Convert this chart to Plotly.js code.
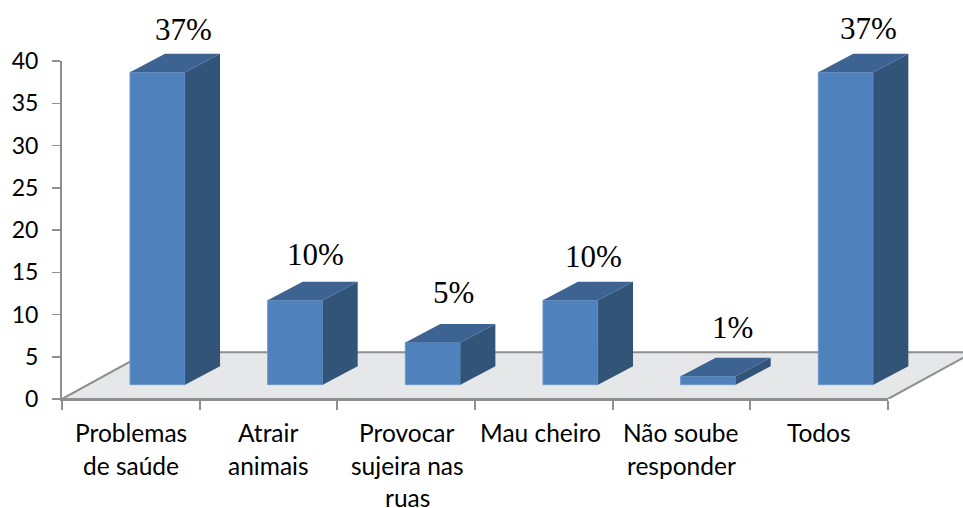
<!DOCTYPE html>
<html>
<head>
<meta charset="utf-8">
<script src="https://cdn.plot.ly/plotly-3.0.1.min.js"></script>
<style>html,body{margin:0;padding:0;background:#fff}#c{width:963px;height:508px}</style>
</head>
<body>
<div id="c"></div>
<script>
const categoryLines = [
  ["Problemas","de saúde"],
  ["Atrair","animais"],
  ["Provocar","sujeira nas","ruas"],
  ["Mau cheiro"],
  ["Não soube","responder"],
  ["Todos"]
];
const categoryShiftX = [0, 0, 1, -3, 0, 0];
const values = [37, 10, 5, 10, 1, 37];
const valueLabels = ["37%","10%","5%","10%","1%","37%"];
const labelShiftX = [26, 20, 21, 23, 24, 23];
const labelShiftY = [43, 46, 50, 44, 49, 44];
const yTicks = [0,5,10,15,20,25,30,35,40];

// 3D projection, in axis units
const barOffset = 0.694, barWidth = 0.4, barBase = 1.7;
const depthX = 0.254, depthY = 2.19;
const floorX = 0.618, floorY = 5.53;
const n = values.length;
const positions = values.map((_, i) => i + barOffset);

// The drawing axes run to the window edge so the projection is not clipped;
// the visible axes cover the chart's own 0..6 and 0..40 range.
const xMax = 6.545, yMax = 47.24;
const xFrac = n / xMax, yFrac = 40 / yMax;

const sideX = [], sideY = [], topX = [], topY = [];
values.forEach((v, i) => {
  const x0 = positions[i] - barWidth / 2, x1 = positions[i] + barWidth / 2;
  const t = barBase + v;
  sideX.push(x1, x1 + depthX, x1 + depthX, x1, x1, null);
  sideY.push(barBase, barBase + depthY, t + depthY, t, barBase, null);
  topX.push(x0, x0 + depthX, x1 + depthX, x1, x0, null);
  topY.push(t, t + depthY, t + depthY, t, t, null);
});

const traces = [
  {type:'scatter', mode:'lines', x:[0, floorX, n + floorX, n, 0], y:[0, floorY, floorY, 0, 0],
   fill:'toself', fillcolor:'#e6e7e9', line:{color:'#8f8f8f', width:2}, cliponaxis:false,
   hoverinfo:'skip', showlegend:false, xaxis:'x', yaxis:'y'},
  {type:'bar', x:positions, y:values, base:barBase, width:barWidth,
   marker:{color:'#4f81bd', line:{color:'#6c97cc', width:1}}, cliponaxis:false,
   hoverinfo:'skip', showlegend:false, xaxis:'x2', yaxis:'y2'},
  {type:'scatter', mode:'lines', x:sideX, y:sideY, fill:'toself', fillcolor:'#325479',
   line:{width:0, color:'#325479'}, cliponaxis:false, hoverinfo:'skip', showlegend:false, xaxis:'x2', yaxis:'y2'},
  {type:'scatter', mode:'lines', x:topX, y:topY, fill:'toself', fillcolor:'#3c6391',
   line:{width:0, color:'#3c6391'}, cliponaxis:false, hoverinfo:'skip', showlegend:false, xaxis:'x2', yaxis:'y2'},
  {type:'scatter', mode:'markers', x:[0], y:[0], marker:{opacity:0}, hoverinfo:'skip', showlegend:false, xaxis:'x3', yaxis:'y3'}
];

const annotations = [];
categoryLines.forEach((lines, i) => {
  lines.forEach((text, j) => {
    annotations.push({xref:'x3', yref:'y3', x:i + 0.5, y:0, text:text, showarrow:false,
      yanchor:'middle', xanchor:'center', xshift:categoryShiftX[i], yshift:-(33.5 + 32.5 * j),
      font:{family:'Lato, Carlito, sans-serif', size:24.5, color:'#000'}});
  });
});
valueLabels.forEach((text, i) => {
  annotations.push({xref:'x2', yref:'y2', x:positions[i], y:barBase + values[i], text:text, showarrow:false,
    xanchor:'center', yanchor:'middle', xshift:labelShiftX[i], yshift:labelShiftY[i],
    font:{family:'Liberation Serif, serif', size:31, color:'#000'}});
});

const layout = {
  width:963, height:508,
  margin:{l:62, r:0, t:0, b:109.3, pad:0},
  paper_bgcolor:'#fff', plot_bgcolor:'rgba(0,0,0,0)',
  showlegend:false,
  xaxis:{range:[0,xMax], visible:false, fixedrange:true},
  yaxis:{range:[0,yMax], visible:false, fixedrange:true},
  xaxis2:{range:[0,xMax], overlaying:'x', visible:false, fixedrange:true},
  yaxis2:{range:[0,yMax], overlaying:'y', visible:false, fixedrange:true},
  xaxis3:{domain:[0,xFrac], anchor:'y3', range:[0,n], tickmode:'array', tickvals:[0,1,2,3,4,5,6], showticklabels:false,
    ticks:'outside', ticklen:9, tickwidth:2, tickcolor:'#8f8f8f', showline:true, linecolor:'#8f8f8f', linewidth:2,
    showgrid:false, zeroline:false, fixedrange:true},
  yaxis3:{domain:[0,yFrac], anchor:'x3', range:[0,40], tickmode:'array', tickvals:yTicks, ticks:'outside', ticklen:8, tickwidth:1.5,
    tickcolor:'#8f8f8f', showline:true, linecolor:'#8f8f8f', linewidth:2, showgrid:false, zeroline:false,
    ticklabelstandoff:9, tickfont:{family:'Lato, Carlito, sans-serif', size:23, color:'#000'}, fixedrange:true},
  annotations:annotations
};
Plotly.newPlot('c', traces, layout, {displayModeBar:false, staticPlot:true});
</script>
</body>
</html>
